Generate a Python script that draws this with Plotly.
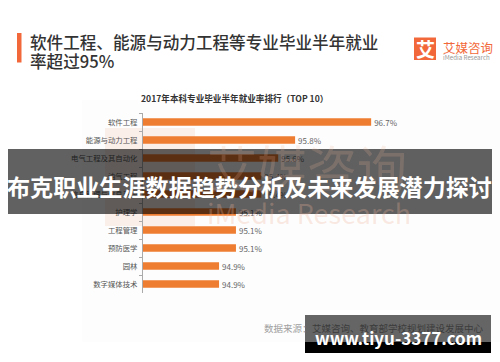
import plotly.graph_objects as go

categories = ["软件工程", "能源与动力工程", "电气工程及其自动化", "油气工程", "信息管理与信息系统",
              "护理学", "工程管理", "预防医学", "园林", "数字媒体技术"]
values = [96.7, 95.8, 95.6, 95.4, 95.4, 95.1, 95.1, 95.1, 94.9, 94.9]
value_labels = ["96.7%", "95.8%", "95.6%", "95.4%", "95.4%", "95.1%", "95.1%", "95.1%", "94.9%", "94.9%"]

FONT = "Noto Sans CJK SC"
W, H = 500, 362
L, R, T, B = 143, 19, 113, 69


def px(x):
    return (x - L) / (W - L - R)


def py(y):
    return 1 - (y - T) / (H - T - B)


def note(text, x, y, size, color, anchor="left", weight=400):
    return dict(text=text, x=px(x), y=py(y), xref="paper", yref="paper", xanchor=anchor, yanchor="middle",
                showarrow=False, font=dict(family=FONT, size=size, color=color, weight=weight))


def rect(x0, y0, x1, y1, fill, layer="above"):
    return dict(type="rect", xref="paper", yref="paper", x0=px(x0), x1=px(x1), y0=py(y0), y1=py(y1),
                fillcolor=fill, line=dict(width=0), layer=layer)


fig = go.Figure(go.Bar(
    y=categories, x=values, orientation="h", base=0, width=0.42,
    marker=dict(color="#ee7d31", line=dict(width=0)),
    text=value_labels, textposition="outside", cliponaxis=True, constraintext="none", textangle=0,
    textfont=dict(family=FONT, size=8, color="#666666"),
))

shapes = [
    rect(82, 100, 500, 342, "#fdfdfd", "below"),
    rect(105, 128, 195, 226, "rgba(248,222,210,0.45)", "below"),
    rect(17, 33, 21.5, 62.5, "#f2683a"),
    rect(414, 37.5, 436, 60, "#f2683a"),
    rect(8, 149, 492, 214, "rgba(0,0,0,0.62)"),
    rect(305, 315, 491, 342, "rgba(0,0,0,0.6)"),
    rect(305, 342, 491, 353, "#000000"),
]

annotations = [
    note("艾媒咨询", 205, 166, 50, "rgba(240,180,155,0.2)"),
    note("iMedia Research", 205, 212, 27, "rgba(240,180,155,0.28)"),
    note("软件工程、能源与动力工程等专业毕业半年就业", 28, 42, 16.6, "#333333", weight=500),
    note("率超过95%", 28, 61, 16.6, "#333333", weight=500),
    note("2017年本科专业毕业半年就业率排行\uff08TOP 10\uff09", 234, 98, 8.6, "#333333", "center", 700),
    note("艾", 425, 49, 19, "#ffffff", "center", 700),
    note("艾媒咨询", 441, 47, 12.5, "#f2683a"),
    note("iMedia Research", 441, 57, 6.2, "#999999"),
    note("数据来源\uff1a", 262, 328, 9.5, "#a0a0a0"),
    note("艾媒咨询、教育部学校规划建设发展中心", 310, 328, 9.5, "#3c3c3c"),
    note("布克职业生涯数据趋势分析及未来发展潜力探讨", 249, 186, 23.1, "#ffffff", "center", 700),
    note("www.tiyu-3377.com", 398, 337, 17, "#ffffff", "center", 700),
]

fig.update_layout(
    width=W, height=H, autosize=False,
    margin=dict(l=L, r=R, t=T, b=B, pad=0),
    paper_bgcolor="#ffffff", plot_bgcolor="rgba(0,0,0,0)",
    showlegend=False, shapes=shapes, annotations=annotations,
    font=dict(family=FONT),
    xaxis=dict(range=[94, 98], visible=False, showgrid=False, zeroline=False),
    yaxis=dict(autorange="reversed", automargin=False, tickson="boundaries", ticks="outside", ticklen=3,
               tickcolor="#aaaaaa", showline=True, linecolor="#aaaaaa", linewidth=1, showgrid=False,
               ticklabelstandoff=3, tickfont=dict(family=FONT, size=7.4, color="#555555")),
)

fig.write_html("out.html", config={"displayModeBar": False},
               post_script="document.body.style.margin='0';document.body.style.overflow='hidden';")
